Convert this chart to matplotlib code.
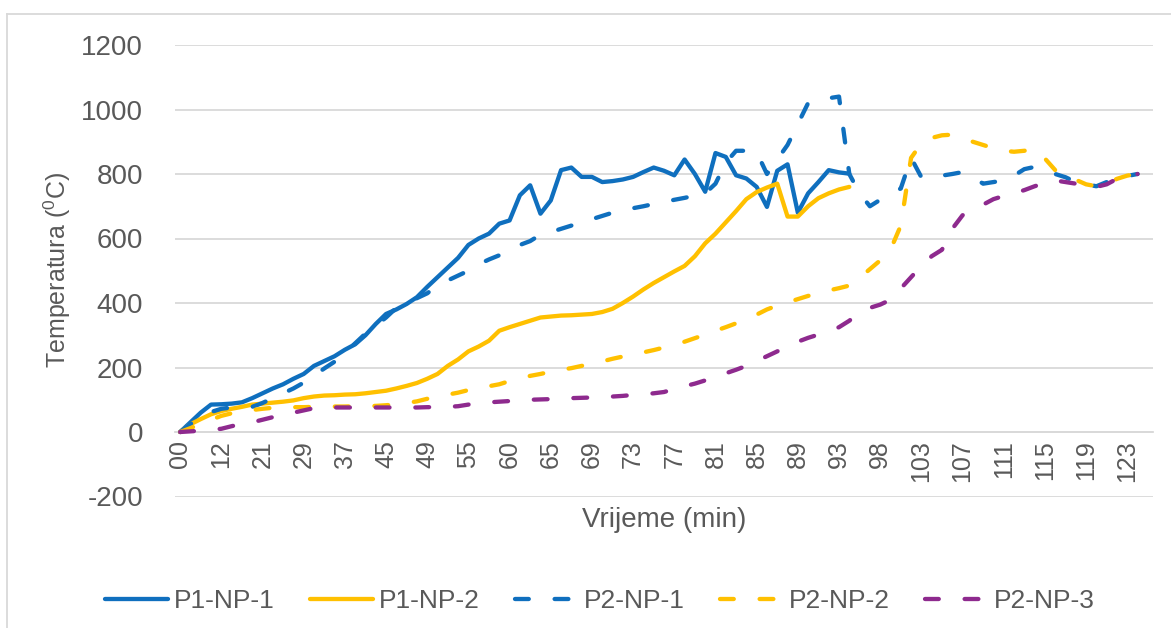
import numpy as np
import matplotlib
matplotlib.use('Agg')
import matplotlib.pyplot as plt
from matplotlib.lines import Line2D

plt.rcParams['font.family'] = ['Liberation Sans', 'DejaVu Sans']
plt.rcParams['mathtext.fontset'] = 'custom'
plt.rcParams['mathtext.rm'] = 'Liberation Sans'
plt.rcParams['axes.unicode_minus'] = False

# every 4th category is labelled on the axis
tick_labels = ['00', '12', '21', '29', '37', '45', '49', '55', '60', '65', '69', '73',
               '77', '81', '85', '89', '93', '98', '103', '107', '111', '115', '119', '123']
n_cat = 95
label_step = 4

p1_np1 = [0, 30, 60, 85, 86, 88, 92, 105, 120, 135, 148, 165, 180, 205, 220, 235, 255, 272,
          300, 335, 366, 380, 397, 418, 450, 480, 510, 540, 580, 600, 615, 646, 656, 734, 765,
          677, 718, 812, 820, 791, 791, 775, 778, 783, 791, 806, 820, 810, 796, 845, 800, 745,
          865, 853, 796, 786, 760, 698, 810, 830, 680, 740, 775, 812, 805, 801]
p1_np2 = [0, 24, 40, 55, 65, 72, 78, 85, 88, 91, 94, 98, 105, 110, 113, 114, 116, 117, 120,
          124, 128, 135, 143, 152, 165, 180, 205, 225, 250, 265, 283, 314, 325, 335, 345, 355,
          358, 361, 362, 364, 366, 372, 382, 400, 420, 442, 462, 480, 498, 515, 545, 585, 615,
          650, 685, 722, 744, 758, 770, 668, 668, 700, 725, 740, 752, 760]
p2_np1 = [0, 25, 45, 62, 72, 76, 76, 78, 90, 105, 120, 135, 153, 175, 197, 218, 245, 275,
          305, 330, 355, 385, 405, 415, 430, 455, 470, 485, 500, 520, 535, 548, 563, 580, 592,
          612, 620, 630, 640, 650, 660, 670, 680, 688, 694, 700, 707, 713, 720, 726, 733, 740,
          770, 835, 872, 872, 868, 800, 845, 890, 955, 1020, 1030, 1035, 1040, 800, 740, 700,
          720, 738, 755, 850, 790, 787, 795, 800, 806, 790, 770, 775, 780, 795, 815, 822, 812,
          800, 790, 775, 768, 762, 775, 787, 794, 800]
p2_np2 = [0, 12, 25, 38, 50, 58, 64, 68, 72, 75, 76, 77, 77, 78, 78, 79, 79, 80, 80, 81, 83,
          86, 90, 95, 103, 110, 116, 122, 130, 136, 142, 148, 158, 166, 174, 180, 187, 193, 198,
          205, 212, 219, 227, 234, 240, 247, 254, 262, 271, 280, 291, 302, 314, 325, 337, 350,
          364, 380, 392, 402, 412, 422, 430, 439, 446, 454, 478, 505, 532, 565, 640, 850, 895,
          912, 920, 922, 912, 900, 890, 880, 872, 869, 872, 878, 848, 812, 798, 782, 768, 762,
          770, 785, 795, 800, 806]
p2_np3 = [0, 2, 4, 7, 10, 18, 25, 30, 38, 46, 54, 60, 67, 74, 76, 76, 76, 76, 76, 76, 76, 76,
          76, 76, 77, 77, 78, 80, 85, 90, 92, 94, 96, 98, 100, 101, 102, 103, 105, 106, 107, 108,
          110, 112, 115, 117, 120, 124, 133, 142, 150, 160, 170, 182, 193, 205, 220, 235, 250,
          265, 280, 292, 302, 312, 325, 345, 372, 385, 395, 410, 445, 480, 515, 545, 565, 630,
          672, 690, 705, 722, 732, 740, 750, 762, 772, 780, 775, 770, 765, 760, 768, 785, 795,
          800]

series = [('P1-NP-1', p1_np1, '#0F6FBE', 'solid'),
          ('P1-NP-2', p1_np2, '#FFC000', 'solid'),
          ('P2-NP-1', p2_np1, '#0F6FBE', 'dash'),
          ('P2-NP-2', p2_np2, '#FFC000', 'dash'),
          ('P2-NP-3', p2_np3, '#8E2A8E', 'dash')]

W, H = 1171, 628
fig = plt.figure(figsize=(W / 100, H / 100), dpi=100)
ax = fig.add_axes([175 / W, 1 - 496.5 / H, (1153 - 175) / W, (496.5 - 45) / H])

# axis line sits at 0 (as in Excel); set before tick styling since it resets ticks
ax.spines['bottom'].set_position(('data', 0))
ax.spines['bottom'].set_color('#D9D9D9')
ax.spines['bottom'].set_linewidth(1.3)
for s in ['top', 'right', 'left']:
    ax.spines[s].set_visible(False)

lw = 3.1
for name, vals, col, style in series:
    x = np.arange(len(vals))
    ln, = ax.plot(x, vals, color=col, lw=lw, solid_capstyle='round',
                  solid_joinstyle='round', dash_capstyle='round', label=name, zorder=3)
    if style == 'dash':
        ln.set_dashes((3.2, 6.0))

ax.set_xlim(-0.5, n_cat - 0.5)
ax.set_ylim(-200, 1200)
ax.set_yticks(np.arange(-200, 1201, 200))
ax.yaxis.grid(True, color='#D9D9D9', lw=1.3)
ax.set_axisbelow(True)
ax.set_xticks(np.arange(0, len(tick_labels) * label_step, label_step))
ax.set_xticklabels(tick_labels)
ax.tick_params(axis='y', length=0, labelsize=20, labelcolor='#595959', pad=23)
ax.tick_params(axis='x', length=0, labelsize=18, labelcolor='#595959', pad=6,
               labelrotation=90)

fig.text(57 / W, 1 - 270 / H, r'Temperatura ($^{0}$C)', fontsize=18, color='#595959',
         rotation=90, ha='center', va='center')
fig.text(664 / W, 1 - 520 / H, 'Vrijeme (min)', fontsize=20,
         color='#595959', ha='center', va='center')

handles = []
for name, vals, col, style in series:
    h = Line2D([], [], color=col, lw=lw, solid_capstyle='round', dash_capstyle='round')
    if style == 'dash':
        h.set_dashes((3.2, 6.0))
    handles.append(h)
fig.legend(handles, [s[0] for s in series], loc='center', ncol=5,
           bbox_to_anchor=(600 / W, 1 - 601 / H), frameon=False, fontsize=19,
           handlelength=2.4, columnspacing=1.35, handletextpad=0.2,
           labelcolor='#595959')

# chart border (only the top and left edges are inside the crop)
fig.add_artist(Line2D([7 / W, 7 / W], [0, 1 - 14 / H], color='#D9D9D9', lw=1.3))
fig.add_artist(Line2D([7 / W, 1], [1 - 14 / H, 1 - 14 / H], color='#D9D9D9', lw=1.3))

fig.savefig('out.png', dpi=100)
